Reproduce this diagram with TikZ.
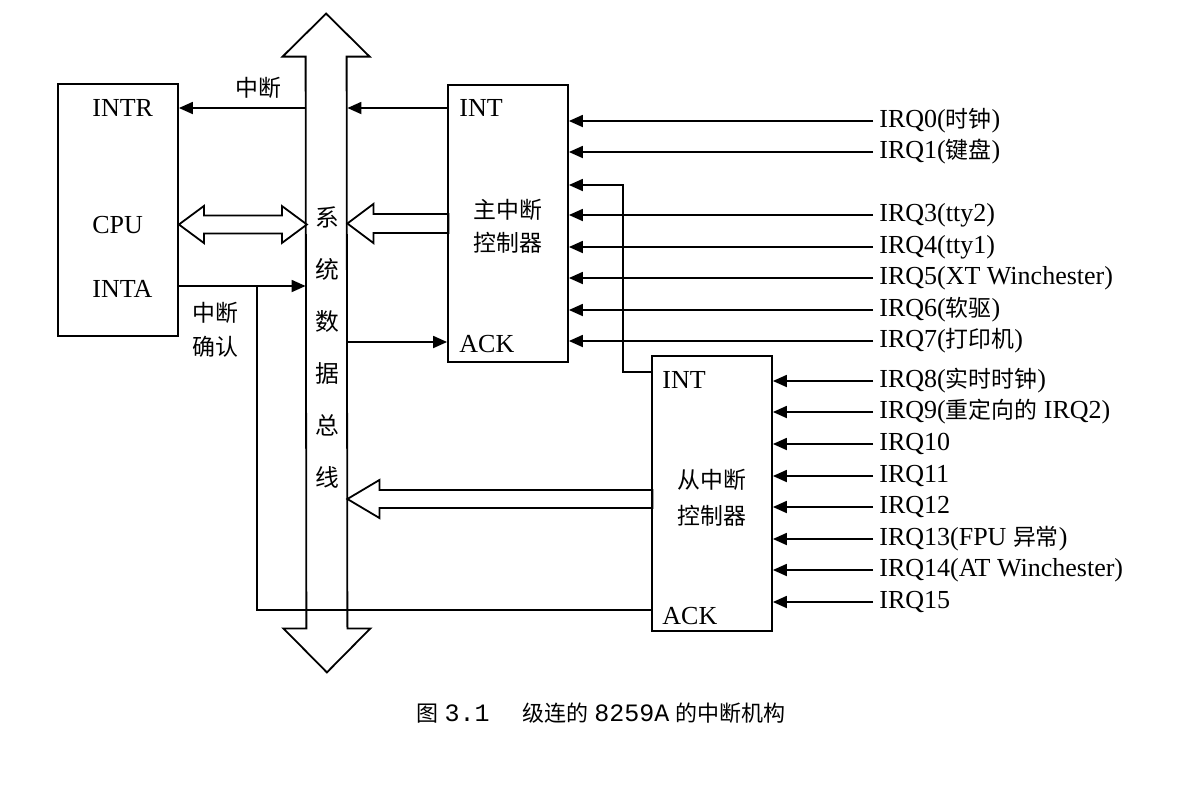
\documentclass[tikz,border=0pt]{standalone}
\usepackage{fontspec}
\setmainfont{Liberation Serif}
\setmonofont{Liberation Mono}
\newfontfamily\zhfont[Scale=0.88]{Noto Sans CJK SC}
\newcommand{\zh}[1]{{\zhfont #1}}
\usetikzlibrary{arrows.meta}
\begin{document}
\begin{tikzpicture}[
        x=0.5pt, y=-0.5pt,
        font=\fontsize{13}{15}\selectfont,
        % Cajas de CPU y controladores
        box/.style={draw, line width=0.9pt, inner sep=0pt},
        % Texto de las patillas
        pin/.style={anchor=west, inner sep=0pt},
        % Entradas IRQ
        irq/.style={anchor=west, inner sep=3pt},
        % Senales con flecha
        sig/.style={line width=0.9pt, -{Triangle[length=7pt,width=6pt]}},
        % Flechas huecas del bus
        hollow/.style={line width=0.9pt, line join=miter}
    ]
        \useasboundingbox (0,0) rectangle (1191,804);

        % --- Cajas ---
        \node[box, minimum width=60pt, minimum height=126pt] (cpu) at (118,210) {};
        \node[box, minimum width=60pt, minimum height=138.5pt] (main) at (508,223.5) {};
        \node[box, minimum width=60pt, minimum height=137.5pt] (slave) at (712,493.5) {};

        % --- Bus del sistema ---
        \node[inner sep=0pt, minimum width=20.5pt, minimum height=285.5pt] (bus) at (326.5,342.5) {};
        \draw[hollow] (bus.north west) -- ++(-23,0) -- ++(43.5,-43) -- ++(43.5,43) -- ++(-23,0)
            -- (bus.south east) -- ++(23,0) -- ++(-43.5,44) -- ++(-43.5,-44) -- ++(23,0) -- cycle;
        \node[align=center, font=\fontsize{13.5}{26}\selectfont] (bustext) at (327,348)
            {\zh{系}\\\zh{统}\\\zh{数}\\\zh{据}\\\zh{总}\\\zh{线}};

        % --- CPU ---
        \node[pin] (intr) at (92,108) {INTR};
        \node[pin] (cpulab) at (92,225) {CPU};
        \node[pin] (inta) at (92,289) {INTA};
        \node (intrlab) at (258,88) {\zh{中断}};
        \node[align=center, font=\fontsize{13}{17}\selectfont] (ackcpu) at (215,330) {\zh{中断}\\\zh{确认}};

        \draw[sig] (bus.west |- intr) -- (cpu.east |- intr);
        \draw[sig] (cpu.east |- 0,286) -- (bus.west |- 0,286);
        \coordinate (tap) at (257,286);
        \draw[line width=0.9pt] (tap) |- (slave.west |- 0,610);
        \draw[hollow] (cpu.east |- 0,224.5) -- ++(25,-18.5) -- ++(0,9.5) -- ++(78,0) -- ++(0,-9.5)
            -- ++(25,18.5) -- ++(-25,18.5) -- ++(0,-9.5) -- ++(-78,0) -- ++(0,9.5) -- cycle;

        % --- Controlador principal ---
        \node[pin] (mint) at (459,108) {INT};
        \node[pin] (mack) at (459,344) {ACK};
        \node[align=center, font=\fontsize{13}{16.5}\selectfont] (mainlab) at (508,226.5) {\zh{主中断}\\\zh{控制器}};
        \draw[sig] (main.west |- mint) -- (bus.east |- mint);
        \draw[sig] (bus.east |- 0,342) -- (main.west |- 0,342);
        \draw[hollow] (bus.east |- 0,223.5) -- ++(26,-19.5) -- ++(0,10) -- ++(75,0) -- ++(0,19)
            -- ++(-75,0) -- ++(0,10) -- cycle;

        % --- Controlador esclavo ---
        \node[pin] (sint) at (662,380) {INT};
        \node[pin] (sack) at (662,616) {ACK};
        \node[align=center, font=\fontsize{13}{18}\selectfont] (slavelab) at (712,498) {\zh{从中断}\\\zh{控制器}};
        \draw[hollow] (bus.east |- 0,499) -- ++(32,-19) -- ++(0,10) -- ++(273,0) -- ++(0,18)
            -- ++(-273,0) -- ++(0,10) -- cycle;
        \coordinate (casc) at (623,185);
        \draw[sig] (slave.west |- 0,372) -| (casc) -- (main.east |- casc);

        % --- Entradas IRQ ---
        \node[irq] (q0) at (873,121) {IRQ0(\zh{时钟})};
        \node[irq] (q1) at (873,152) {IRQ1(\zh{键盘})};
        \node[irq] (q3) at (873,215) {IRQ3(tty2)};
        \node[irq] (q4) at (873,247) {IRQ4(tty1)};
        \node[irq] (q5) at (873,278) {IRQ5(XT Winchester)};
        \node[irq] (q6) at (873,310) {IRQ6(\zh{软驱})};
        \node[irq] (q7) at (873,341) {IRQ7(\zh{打印机})};

        \node[irq] (q8) at (873,381) {IRQ8(\zh{实时时钟})};
        \node[irq] (q9) at (873,412) {IRQ9(\zh{重定向的} IRQ2)};
        \node[irq] (q10) at (873,444) {IRQ10};
        \node[irq] (q11) at (873,476) {IRQ11};
        \node[irq] (q12) at (873,507) {IRQ12};
        \node[irq] (q13) at (873,539) {IRQ13(FPU \zh{异常})};
        \node[irq] (q14) at (873,570) {IRQ14(AT Winchester)};
        \node[irq] (q15) at (873,602) {IRQ15};

        \foreach \q in {q0,q1,q3,q4,q5,q6,q7}
            \draw[sig] (\q.west) -- (main.east |- \q.west);
        \foreach \q in {q8,q9,q10,q11,q12,q13,q14,q15}
            \draw[sig] (\q.west) -- (slave.east |- \q.west);

        % --- Pie de figura ---
        \node (caption) at (601,713) {\fontsize{12.5}{14}\selectfont\zh{图} \texttt{3.1}\hspace{1.3em}\zh{级连的} \texttt{8259A} \zh{的中断机构}};
    \end{tikzpicture}
\end{document}
